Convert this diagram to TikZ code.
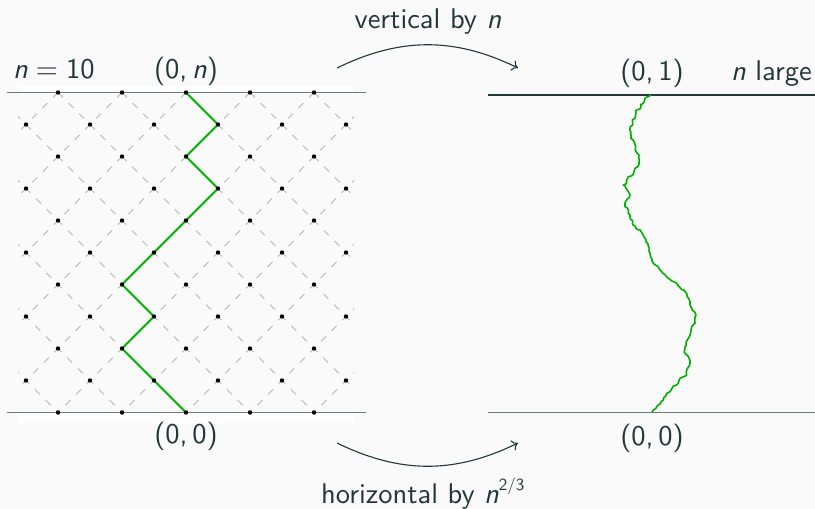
\documentclass[tikz,border=0pt]{standalone}
\usepackage{fontspec}
\setsansfont{lmsans10-regular.otf}[ItalicFont=lmsans10-oblique.otf]
\usetikzlibrary{decorations.pathmorphing,arrows.meta}
\definecolor{bgc}{HTML}{FAFAFA}
\definecolor{fg}{HTML}{23373B}
\definecolor{walk}{HTML}{00B000}
\definecolor{axisl}{HTML}{6F7D80}
\definecolor{gridc}{HTML}{B8B8B8}
\newcommand{\nn}{\textit{n}}
\begin{document}
\begin{tikzpicture}[x=1pt,y=-1pt,
  lbl/.style={font=\sffamily\fontsize{28.5}{33}\selectfont, text=fg, inner sep=0pt},
  axisline/.style={draw=axisl, line width=1.2pt},
  gridline/.style={draw=gridc, line width=0.75pt, dash pattern=on 7pt off 8pt},
  dotc/.style={fill=black},
  walkline/.style={draw=walk, line width=1.8pt, line join=round},
  maparrow/.style={draw=fg, line width=1.1pt, -{To[length=6pt,width=11pt]}}]
\fill[bgc] (0,0) rectangle (815,509);
\useasboundingbox (0,0) rectangle (815,509);
\fill[white] (18,86) rectangle (354,92.5);
\fill[white] (18,412.5) rectangle (354,422.5);
% dashed lattice
\begin{scope}
\clip (18,92.5) rectangle (354,412.5);
\foreach \m in {-7,...,2} \draw[gridline] ({186+64*\m},92.5) -- ({506+64*\m},412.5);
\foreach \m in {-2,...,7} \draw[gridline] ({186+64*\m},92.5) -- ({-134+64*\m},412.5);
\end{scope}
% axis lines
\draw[axisline] (6.7,92.5) -- (366,92.5);
\draw[axisline] (6.7,412.5) -- (366,412.5);
\draw[axisline, draw=fg] (488,95) -- (815,95);
\draw[axisline] (488,412.5) -- (815,412.5);
% left walk
\draw[walkline] (186,92.5) -- (218,124.5) -- (186,156.5) -- (218,188.5) -- (186,220.5)
  -- (154,252.5) -- (122,284.5) -- (154,316.5) -- (122,348.5) -- (154,380.5) -- (186,412.5);
% lattice dots
\foreach \j in {0,2,...,10} \foreach \k in {0,...,4} \fill[dotc] ({58+64*\k},{92.5+32*\j}) circle (2.2pt);
\foreach \j in {1,3,...,9} \foreach \k in {0,...,5} \fill[dotc] ({26+64*\k},{92.5+32*\j}) circle (2.2pt);
% right walk
\pgfmathsetseed{7}
\draw[walkline, line width=1.6pt, decorate, decoration={random steps, segment length=2.5pt, amplitude=0.8pt}]
 (651,95) -- (645,98.3) -- (644,102.3) -- (640.7,104.3) -- (640,109) -- (635.7,110.7)
 -- (635,118.3) -- (632.3,120) -- (632.7,125) -- (630.3,126.7) -- (630.7,138.3) -- (634,141.7)
 -- (636,151.7) -- (639,155) -- (639.3,159) -- (637.7,166.7) -- (635,168.3) -- (633.3,174.3)
 -- (628.3,176.7) -- (626.7,183.3) -- (623.3,185) -- (627.3,190) -- (630,195) -- (625,203.3)
 -- (625,206.7) -- (628.3,210) -- (630,216.7) -- (632.7,221) -- (633.3,225) -- (636.7,229.3)
 -- (640,230) -- (643.3,235) -- (646,241.7) -- (649.3,248.3) -- (650,253.3) -- (650.7,256.7)
 -- (653.3,263.3) -- (658.3,266.7) -- (661.7,271.7) -- (668.3,278.3) -- (676.7,283.3)
 -- (685,291.7) -- (687.3,296.7) -- (690,301.7) -- (691.7,308.3) -- (696,315) -- (695,323.3)
 -- (691.7,326.7) -- (690,335) -- (687.3,340) -- (685,346.7) -- (684,351.7) -- (688.3,356.7)
 -- (690,363.3) -- (686.7,370) -- (686.7,375) -- (680,378.3) -- (678.3,383.3) -- (673.3,386)
 -- (670,391.7) -- (666.7,393.3) -- (663.3,400) -- (660,404) -- (656.7,406.7) -- (653.3,410)
 -- (652,412.5);
% labels
\node[lbl, anchor=base west] (nlab) at (13,78) {\nn\hspace{0.28em}=\hspace{0.28em}10};
\node[lbl, anchor=base] (top0) at (186,78) {(0,\hspace{0.17em}\nn)};
\node[lbl, anchor=base] (bot0) at (186,443) {(0,\hspace{0.17em}0)};
\node[lbl, anchor=base] (topR) at (652,80) {(0,\hspace{0.17em}1)};
\node[lbl, anchor=base east] (nlarge) at (812,80) {\nn{} large};
\node[lbl, anchor=base] (botR) at (652,445) {(0,\hspace{0.17em}0)};
\node[lbl, anchor=base] (vert) at (428,28) {vertical by \nn};
\node[lbl, anchor=base west] (horiz) at (321,503) {horizontal by \nn\raisebox{0.45em}{\fontsize{17}{20}\selectfont 2/3}};
% map arrows
\coordinate (a1s) at (337,68); \coordinate (a1e) at (518,68);
\draw[maparrow] (a1s) to[bend left=26] (a1e);
\coordinate (a2s) at (337,443); \coordinate (a2e) at (518,443);
\draw[maparrow] (a2s) to[bend right=26] (a2e);
\end{tikzpicture}
\end{document}
